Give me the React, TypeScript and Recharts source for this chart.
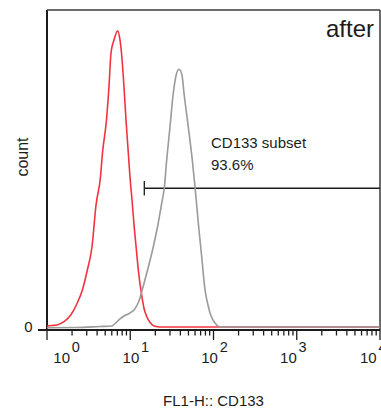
import React from 'react';
import { LineChart, Line, XAxis, YAxis, ReferenceLine, Label } from 'recharts';

// FL1-H intensity (log axis) and event count
const RED_FL = [1, 1.15, 1.32, 1.6, 1.93, 2.31, 2.66, 3.05, 3.47, 3.88, 4.39, 4.64, 5.18, 5.55, 5.87, 6.38, 7.07, 7.53, 7.85, 8.41, 8.89, 9.48, 9.93, 10.5, 11.1, 11.7, 12.5, 13.7, 14.6, 15.8, 17.3, 19.3, 22.8, 10000];
const RED_COUNT = [1.25, 1.41, 1.56, 2.59, 4.69, 8.44, 12.5, 18.75, 25.94, 39.06, 47.81, 55.31, 65.63, 75.94, 86.56, 90.63, 93.53, 90.63, 86.56, 75.94, 65.63, 55.31, 47.81, 40.63, 32.81, 26.56, 18.75, 10.94, 6.88, 4.16, 2.34, 1.25, 0.94, 0.94];

const GRAY_FL = [1, 2.29, 4.33, 6.04, 6.56, 7.53, 8.41, 9.93, 11.1, 12.1, 13.1, 13.8, 15.0, 16.5, 18.9, 21.7, 23.9, 25.7, 27.4, 30.0, 32.9, 35.4, 38.5, 41.8, 44.2, 49.8, 55.6, 60.0, 65.7, 72.2, 79.1, 85.9, 90.8, 98.6, 109, 120, 10000];
const GRAY_COUNT = [0.72, 0.78, 1.09, 1.25, 2.03, 3.44, 4.38, 5.31, 6.25, 7.81, 10.0, 12.19, 15.63, 19.69, 25.94, 33.44, 39.69, 44.69, 53.13, 63.44, 74.06, 79.38, 81.47, 79.69, 74.06, 63.44, 53.13, 44.69, 33.44, 22.81, 12.5, 7.81, 5.31, 3.13, 1.56, 0.94, 0.94];

const MAJOR_TICKS = [1, 10, 100, 1000, 10000];
const X_TICKS = [
  1, 2, 3, 4, 5, 6, 7, 8, 9,
  10, 20, 30, 40, 50, 60, 70, 80, 90,
  100, 200, 300, 400, 500, 600, 700, 800, 900,
  1000, 2000, 3000, 4000, 5000, 6000, 7000, 8000, 9000,
  10000,
];
const Y_TICKS = [0];

const GATE_FROM = 14.75;
const GATE_TO = 10000;
const GATE_LEVEL = 44.3;
const GATE_NAME = 'CD133 subset';
const GATE_PCT = '93.6%';
const PANEL_TITLE = 'after';
const X_TITLE = 'FL1-H:: CD133';
const Y_TITLE = 'count';

const redData = RED_FL.map((x, i) => ({ x, y: RED_COUNT[i] }));
const grayData = GRAY_FL.map((x, i) => ({ x, y: GRAY_COUNT[i] }));

const FONT = '"Liberation Sans", Arial, sans-serif';
const INK = '#1c1c1c';
const FRAME = '#3a3a3a';
// FlowJo puts the decade labels slightly off their ticks
const LABEL_SHIFT = [6.3, -7.7, -12.3, -16.7, -20];

function XTick(props: any) {
  const { x, y, payload } = props;
  const v = payload.value;
  const major = MAJOR_TICKS.includes(v);
  const exp = Math.round(Math.log10(v));
  return (
    <g>
      <line x1={x} x2={x} y1={y} y2={y + (major ? 10 : 5.5)} stroke={INK} strokeWidth={1.3} />
      {major && (
        <g fontFamily={FONT} fill={INK}>
          <text x={x + LABEL_SHIFT[exp]} y={y + 33} fontSize={15}>10</text>
          <text x={x + LABEL_SHIFT[exp] + 18.5} y={y + 21.5} fontSize={14.5}>{exp}</text>
        </g>
      )}
    </g>
  );
}

function YTick(props: any) {
  const { x, y, payload } = props;
  return (
    <g>
      <line x1={x - 9} x2={x} y1={y} y2={y} stroke={INK} strokeWidth={2} />
      <text x={x - 18.5} y={y + 2} textAnchor="middle" fontFamily={FONT} fontSize={15} fill={INK}>
        {payload.value}
      </text>
    </g>
  );
}

export default function App() {
  return (
    <div style={{ position: 'absolute', left: 0, top: 0, width: 381, height: 411, background: '#fff' }}>
      <LineChart width={381} height={411} margin={{ top: 9, right: 0, bottom: 21, left: 17 }}>
        <XAxis
          dataKey="x"
          type="number"
          scale="log"
          domain={[1, 10000]}
          allowDataOverflow
          ticks={X_TICKS}
          interval={0}
          height={60}
          tickSize={0}
          tickMargin={0}
          tickLine={false}
          tick={<XTick />}
          axisLine={{ stroke: INK, strokeWidth: 2 }}
          label={
            <Label
              content={(p: any) => (
                <text
                  x={p.viewBox.x + p.viewBox.width / 2}
                  y={p.viewBox.y + 76}
                  textAnchor="middle"
                  fontFamily={FONT}
                  fontSize={15}
                  fill={INK}
                >
                  {X_TITLE}
                </text>
              )}
            />
          }
        />
        <XAxis xAxisId="top" orientation="top" type="number" domain={[0, 1]} height={1} tick={false} tickLine={false} axisLine={false} />
        <YAxis
          type="number"
          domain={[0, 100]}
          width={30}
          ticks={Y_TICKS}
          interval={0}
          tickSize={0}
          tickMargin={0}
          tickLine={false}
          tick={<YTick />}
          axisLine={false}
        />
        <YAxis yAxisId="right" orientation="right" type="number" domain={[0, 1]} width={1} tick={false} tickLine={false} axisLine={false} />

        {/* plot frame */}
        <ReferenceLine x={1} stroke={INK} strokeWidth={2} ifOverflow="visible" />
        <ReferenceLine y={100} stroke={FRAME} strokeWidth={1.5} ifOverflow="visible" />
        <ReferenceLine x={10000} stroke={FRAME} strokeWidth={1.5} ifOverflow="visible" />

        <ReferenceLine
          segment={[{ x: GATE_FROM, y: GATE_LEVEL }, { x: GATE_TO, y: GATE_LEVEL }]}
          stroke={INK}
          strokeWidth={1.3}
        />
        <ReferenceLine
          segment={[{ x: GATE_FROM, y: GATE_LEVEL - 2.3 }, { x: GATE_FROM, y: GATE_LEVEL + 2.3 }]}
          stroke={INK}
          strokeWidth={1.3}
        />

        <Line data={redData} dataKey="y" type="monotone" stroke="#f2333f" strokeWidth={1.6} dot={false} isAnimationActive={false} />
        <Line data={grayData} dataKey="y" type="monotone" stroke="#9a9a9a" strokeWidth={1.6} dot={false} isAnimationActive={false} />

        <text x={28} y={157} transform="rotate(-90, 28, 157)" textAnchor="middle" fontFamily={FONT} fontSize={16} fill={INK}>
          {Y_TITLE}
        </text>
        <text x={374} y={37} textAnchor="end" fontFamily={FONT} fontSize={24} fill={INK}>{PANEL_TITLE}</text>
        <text x={211} y={148} fontFamily={FONT} fontSize={15} fill={INK}>{GATE_NAME}</text>
        <text x={211} y={170} fontFamily={FONT} fontSize={15} fill={INK}>{GATE_PCT}</text>
      </LineChart>
    </div>
  );
}
